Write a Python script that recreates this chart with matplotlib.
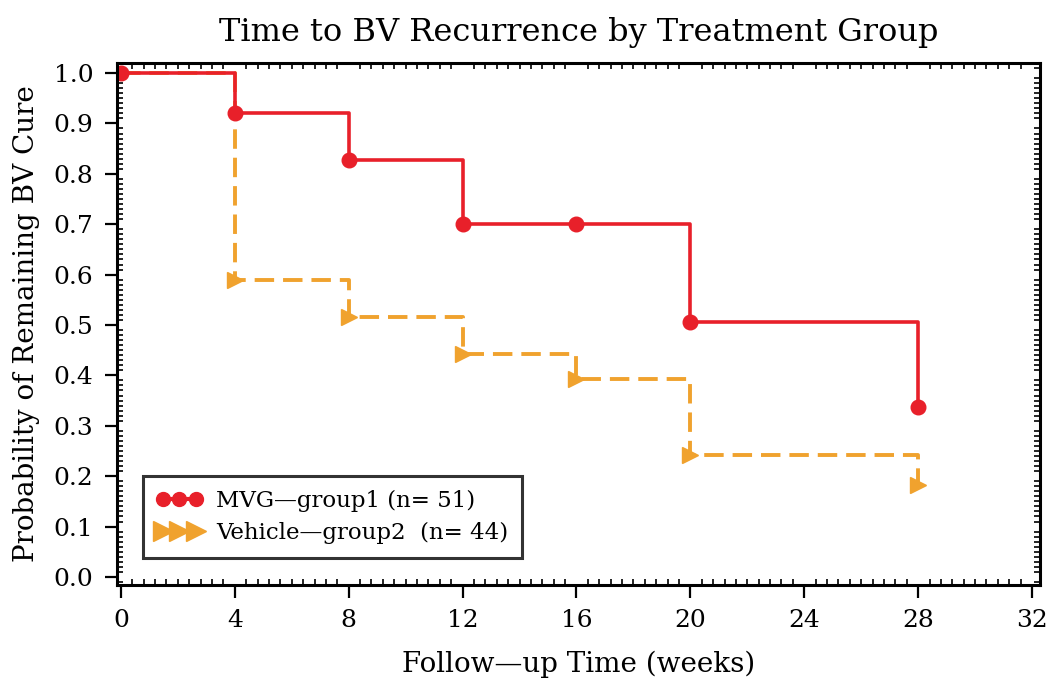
import numpy as np
import matplotlib
matplotlib.use('Agg')
from matplotlib import pyplot as plt
from matplotlib.ticker import MultipleLocator

# survival estimates
weeks = [0, 4, 8, 12, 16, 20, 28]
mvg_surv = [1.0, 0.921, 0.827, 0.700, 0.700, 0.506, 0.337]
veh_surv = [1.0, 0.589, 0.516, 0.442, 0.393, 0.242, 0.183]

mvg_label = 'MVG\u2014group1 (n= 51)'
veh_label = 'Vehicle\u2014group2  (n= 44)'

x_ticks = [0, 4, 8, 12, 16, 20, 24, 28, 32]
y_ticks = [0.0, 0.1, 0.2, 0.3, 0.4, 0.5, 0.6, 0.7, 0.8, 0.9, 1.0]

red = '#e8202a'
orange = '#f0a22e'

plt.rcParams['font.family'] = ['DejaVu Serif']

fig = plt.figure(figsize=(10.47, 6.83), dpi=100)
ax = fig.add_axes([0.1117, 0.1435, 0.8816, 0.7643])

# orange first so the red line sits on top where they overlap
ax.plot(weeks, veh_surv, drawstyle='steps-post', color=orange, lw=2.8,
        linestyle=(0, (5, 2.3)))
ax.plot(weeks, veh_surv, linestyle='none', marker='>', color=orange, ms=11)
ax.plot(weeks, mvg_surv, drawstyle='steps-post', color=red, lw=2.6)
ax.plot(weeks, mvg_surv, linestyle='none', marker='o', color=red, ms=10.5)

# legend proxies: three markers joined by a line
h1, = ax.plot([], [], color=red, lw=3, marker='o', ms=10)
h2, = ax.plot([], [], color=orange, lw=3, marker='>', ms=14)
leg = ax.legend([h1, h2], [mvg_label, veh_label], loc='lower left',
                bbox_to_anchor=(0.028, 0.052), borderaxespad=0,
                numpoints=3, fontsize=16.5,
                frameon=True, fancybox=False, edgecolor='black',
                handlelength=2.0, handletextpad=0.6, borderpad=0.6,
                labelspacing=0.45)
leg.get_frame().set_linewidth(2.2)

ax.set_xlim(-0.14, 32.28)
ax.set_ylim(-0.016, 1.02)
ax.set_xticks(x_ticks)
ax.set_yticks(y_ticks)
ax.set_yticklabels(['%.1f' % v for v in y_ticks])
ax.xaxis.set_minor_locator(MultipleLocator(0.4))
ax.yaxis.set_minor_locator(MultipleLocator(0.01))
ax.tick_params(which='major', direction='out', length=9, width=1.6,
               labelsize=18, pad=8)
ax.tick_params(which='minor', direction='in', length=4, width=1.2,
               top=True, right=True)

for s in ax.spines.values():
    s.set_linewidth(2.2)

ax.set_title('Time to BV Recurrence by Treatment Group', fontsize=23,
             pad=16)
ax.set_xlabel('Follow\u2014up Time (weeks)', fontsize=20, labelpad=14)
ax.set_ylabel('Probability of Remaining BV Cure', fontsize=20, labelpad=10)

fig.savefig('out.png', dpi=100)
